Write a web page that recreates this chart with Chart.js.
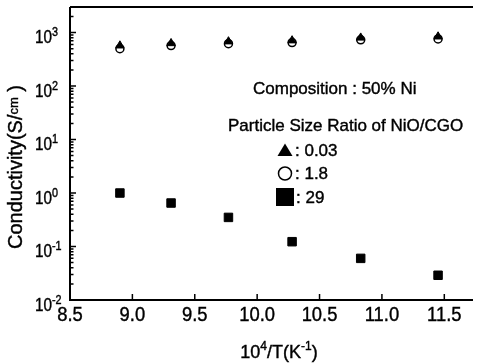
<!DOCTYPE html>
<html>
<head>
<meta charset="utf-8">
<title>Conductivity vs 10^4/T</title>
<script src="https://cdn.jsdelivr.net/npm/chart.js@4.4.1/dist/chart.umd.min.js"></script>
<style>
    html, body { margin: 0; padding: 0; background: #fff; }
    #wrap { width: 480px; height: 364px; }
</style>
</head>
<body>
<div id="wrap"><canvas id="chart" width="480" height="364"></canvas></div>
<script>
// 10^4/T of each measurement
const invTemp = [8.9, 9.31, 9.77, 10.28, 10.83, 11.45];
// conductivity (S/cm) per NiO/CGO particle size ratio
const ratio003 = [570, 630, 680, 710, 800, 840];
const ratio18 = [500, 570, 620, 650, 730, 760];
const ratio29 = [1.0, 0.65, 0.35, 0.123, 0.060, 0.029];

const xTicks = [8.5, 9.0, 9.5, 10.0, 10.5, 11.0, 11.5];
const yExponents = [-2, -1, 0, 1, 2, 3];
const legendTitle = "Composition : 50% Ni";
const legendSub = "Particle Size Ratio of NiO/CGO";
const legendLabels = [": 0.03", ": 1.8", ": 29"];

const FONT = '"Liberation Sans", Arial, Helvetica, sans-serif';

function points(ys) {
    return invTemp.map((x, i) => ({ x: x, y: ys[i] }));
}

function text(ctx, str, x, y, size, align, sx) {
    ctx.save();
    ctx.font = size + "px " + FONT;
    ctx.translate(x, y);
    ctx.scale(sx || 1, 1);
    ctx.textAlign = align || "left";
    ctx.textBaseline = "alphabetic";
    ctx.fillText(str, 0, 0);
    // scanned original has slightly heavy strokes
    ctx.lineWidth = 0.4;
    ctx.strokeText(str, 0, 0);
    let w = ctx.measureText(str).width * (sx || 1);
    ctx.restore();
    return w;
}

// draws a run of [string, size, baseline shift] pieces, centred on x
function pieces(ctx, parts, cx, y) {
    let total = 0;
    parts.forEach(p => {
        ctx.font = p[1] + "px " + FONT;
        total += ctx.measureText(p[0]).width;
    });
    let x = cx - total / 2;
    parts.forEach(p => {
        x += text(ctx, p[0], x, y + p[2], p[1], "left");
    });
}

const axisPlugin = {
    id: "axisPlugin",
    afterDraw(chart) {
        const ctx = chart.ctx;
        const a = chart.chartArea;
        const xs = chart.scales.x;
        const ys = chart.scales.y;
        ctx.save();
        ctx.fillStyle = "#000";
        ctx.strokeStyle = "#000";

        // frame (left, bottom, top)
        ctx.lineWidth = 2;
        ctx.beginPath();
        ctx.moveTo(a.left, a.top);
        ctx.lineTo(a.left, a.bottom);
        ctx.lineTo(a.right, a.bottom);
        ctx.moveTo(a.left, a.top);
        ctx.lineTo(a.right, a.top);
        ctx.stroke();

        // x ticks, pointing inside
        ctx.lineWidth = 1.5;
        ctx.beginPath();
        xTicks.forEach(v => {
            let px = xs.getPixelForValue(v);
            ctx.moveTo(px, a.bottom);
            ctx.lineTo(px, a.bottom - 6);
        });
        // y ticks, major + minor
        for (let e = -2; e <= 3; e++) {
            for (let m = 1; m <= 9; m++) {
                let v = m * Math.pow(10, e);
                if (v > ys.max) break;
                let py = ys.getPixelForValue(v);
                ctx.moveTo(a.left, py);
                ctx.lineTo(a.left + (m === 1 ? 6 : 3.5), py);
            }
        }
        ctx.stroke();

        // tick labels
        xTicks.forEach(v => {
            text(ctx, v.toFixed(1), xs.getPixelForValue(v), 321, 20, "center", 0.92);
        });
        yExponents.forEach(e => {
            let py = ys.getPixelForValue(Math.pow(10, e));
            text(ctx, "10", 52, py + 10.5, 18, "right", 0.85);
            text(ctx, e < 0 ? "-" + (-e) : String(e), 52, py + 3.5, 12, "left", 0.9);
        });

        // axis titles
        pieces(ctx, [["10", 18, 0], ["4", 12, -8], ["/T(K", 18, 0], ["-1", 12, -8], [")", 18, 0]], 279, 358);
        ctx.save();
        ctx.translate(22, 167);
        ctx.rotate(-Math.PI / 2);
        pieces(ctx, [["Conductivity(S/", 20, 0], ["cm", 13, -4], [" )", 20, 0]], 0, 0);
        ctx.restore();

        // legend block
        text(ctx, legendTitle, 253, 94, 17, "left");
        text(ctx, legendSub, 228, 131, 17, "left");

        ctx.beginPath();
        ctx.moveTo(285, 143.5);
        ctx.lineTo(292.5, 156);
        ctx.lineTo(277.5, 156);
        ctx.closePath();
        ctx.fill();

        ctx.lineWidth = 1.5;
        ctx.beginPath();
        ctx.arc(285, 173.5, 6.5, 0, Math.PI * 2);
        ctx.stroke();

        ctx.fillRect(276, 188, 18, 18);

        text(ctx, legendLabels[0], 295, 156, 17, "left");
        text(ctx, legendLabels[1], 295, 179, 17, "left");
        text(ctx, legendLabels[2], 296, 203, 17, "left");

        ctx.restore();
    }
};

new Chart(document.getElementById("chart"), {
    type: "scatter",
    data: {
        datasets: [
            {
                label: "0.03",
                data: points(ratio003),
                pointStyle: "triangle",
                pointRadius: 4.8,
                backgroundColor: "#000",
                borderColor: "#000",
                borderWidth: 1
            },
            {
                label: "1.8",
                data: points(ratio18),
                pointStyle: "circle",
                pointRadius: 4,
                backgroundColor: "#fff",
                borderColor: "#000",
                borderWidth: 1.5
            },
            {
                label: "29",
                data: points(ratio29),
                pointStyle: "rect",
                pointRadius: 6,
                backgroundColor: "#000",
                borderColor: "#000",
                borderWidth: 1
            }
        ]
    },
    options: {
        responsive: false,
        devicePixelRatio: 1,
        animation: false,
        layout: { padding: { left: 70, top: 6, right: 0, bottom: 64 } },
        plugins: {
            legend: { display: false },
            tooltip: { enabled: false }
        },
        scales: {
            x: {
                type: "linear",
                min: 8.5,
                max: 11.73,
                grid: { display: false },
                border: { display: false },
                ticks: { display: false },
                afterFit: s => { s.height = 0; }
            },
            y: {
                type: "logarithmic",
                min: 0.01,
                max: 3000,
                grid: { display: false },
                border: { display: false },
                ticks: { display: false },
                afterFit: s => { s.width = 0; }
            }
        }
    },
    plugins: [axisPlugin]
});
</script>
</body>
</html>
